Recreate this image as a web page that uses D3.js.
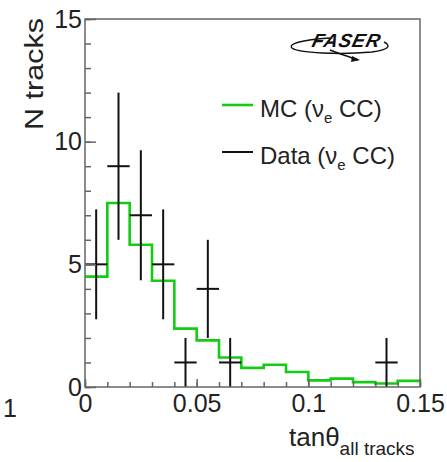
<!DOCTYPE html>
<html>
<head>
<meta charset="utf-8">
<script src="https://cdn.jsdelivr.net/npm/d3@7"></script>
<style>
  body { margin: 0; background: #fff; }
  svg { display: block; font-family: "Liberation Sans", Arial, sans-serif; }
</style>
</head>
<body>
<div id="chart"></div>
<script>
// bins of tan(theta), width 0.01
const binEdges = [0, 0.01, 0.02, 0.03, 0.04, 0.05, 0.06, 0.07, 0.08, 0.09, 0.1, 0.11, 0.12, 0.13, 0.14, 0.15];
const mcCounts = [4.5, 7.5, 5.8, 4.33, 2.38, 1.9, 1.2, 0.78, 0.91, 0.61, 0.27, 0.34, 0.2, 0.14, 0.25];
const dataCounts = [5, 9, 7, 5, 1, 4, 1, 0, 0, 0, 0, 0, 0, 1, 0];
const dataErrors = [2.24, 3, 2.65, 2.24, 1, 2, 1, 0, 0, 0, 0, 0, 0, 1, 0];
const xTickValues = [0, 0.05, 0.1, 0.15];
const xTickLabels = ["0", "0.05", "0.1", "0.15"];
const yTickValues = [0, 5, 10, 15];

const W = 447, H = 462;
const margin = { top: 19, right: 27, bottom: 75, left: 85 };
const width = W - margin.left - margin.right;
const height = H - margin.top - margin.bottom;

const svg = d3.select("#chart").append("svg")
    .attr("width", W)
    .attr("height", H);

const g = svg.append("g")
    .attr("transform", `translate(${margin.left},${margin.top})`);

const x = d3.scaleLinear().domain([0, 0.15]).range([0, width]);
const y = d3.scaleLinear().domain([0, 15]).range([height, 0]);

// MC histogram outline
const histPts = mcCounts.map((v, i) => [binEdges[i], v]);
histPts.push([binEdges[binEdges.length - 1], mcCounts[mcCounts.length - 1]]);

g.append("path")
    .datum(histPts)
    .attr("fill", "none")
    .attr("stroke", "#13cc13")
    .attr("stroke-width", 2.6)
    .attr("d", d3.line().x(d => x(d[0])).y(d => y(d[1])).curve(d3.curveStepAfter));

// data crosses
const pts = dataCounts.map((v, i) => ({ x0: binEdges[i], x1: binEdges[i + 1], v: v, e: dataErrors[i] }))
    .filter(d => d.v > 0);

const cross = g.append("g").attr("stroke", "#111").attr("stroke-width", 2);
cross.selectAll("line.h").data(pts).enter().append("line")
    .attr("x1", d => x(d.x0)).attr("x2", d => x(d.x1))
    .attr("y1", d => y(d.v)).attr("y2", d => y(d.v));
cross.selectAll("line.v").data(pts).enter().append("line")
    .attr("x1", d => x((d.x0 + d.x1) / 2)).attr("x2", d => x((d.x0 + d.x1) / 2))
    .attr("y1", d => y(d.v + d.e)).attr("y2", d => y(d.v - d.e));

// frame
g.append("rect")
    .attr("width", width).attr("height", height)
    .attr("fill", "none").attr("stroke", "#666").attr("stroke-width", 1.5);

// axes
function styleAxis(sel) {
    sel.select(".domain").remove();
    sel.selectAll(".tick line").attr("stroke", "#666").attr("stroke-width", 1.5);
    sel.selectAll(".tick text").attr("fill", "#222").style("font-size", "25px")
        .style("font-family", "'Liberation Sans', Arial, sans-serif");
}

g.append("g")
    .call(d3.axisLeft(y).tickValues(d3.range(0, 16, 1)).tickSize(-6).tickFormat(""))
    .call(styleAxis);
g.append("g")
    .call(d3.axisLeft(y).tickValues(yTickValues).tickSize(-11).tickPadding(3).tickFormat(d3.format("d")))
    .call(styleAxis);

g.append("g")
    .attr("transform", `translate(0,${height})`)
    .call(d3.axisBottom(x).tickValues(d3.range(0, 16, 1).map(i => i / 100)).tickSize(-5).tickFormat(""))
    .call(styleAxis);
g.append("g")
    .attr("transform", `translate(0,${height})`)
    .call(d3.axisBottom(x).tickValues(xTickValues).tickSize(-8).tickPadding(7)
        .tickFormat((d, i) => xTickLabels[i]))
    .call(styleAxis);

// axis titles
svg.append("text")
    .attr("transform", "translate(43,130) rotate(-90)")
    .attr("textLength", 112)
    .attr("lengthAdjust", "spacingAndGlyphs")
    .style("font-size", "26px")
    .attr("fill", "#222")
    .text("N tracks");

const xt = svg.append("text")
    .attr("x", 289).attr("y", 446)
    .attr("fill", "#222")
    .style("font-size", "26px");
xt.append("tspan").text("tanθ");
xt.append("tspan").attr("dy", 9).style("font-size", "19px").text("all tracks");

// stray label at bottom left
svg.append("text")
    .attr("x", 3).attr("y", 417)
    .attr("fill", "#222")
    .style("font-size", "25px")
    .text("1");

// legend
const legend = [
    { label: "MC (", color: "#13cc13", width: 2.6, yy: 105 },
    { label: "Data (", color: "#111", width: 2, yy: 152 }
];
legend.forEach(l => {
    svg.append("line")
        .attr("x1", 222).attr("x2", 253)
        .attr("y1", l.yy).attr("y2", l.yy)
        .attr("stroke", l.color).attr("stroke-width", l.width);
    const t = svg.append("text")
        .attr("x", 260).attr("y", l.yy + 12)
        .attr("fill", "#222")
        .style("font-size", "24px");
    t.append("tspan").text(l.label + "ν");
    t.append("tspan").attr("dy", 6).style("font-size", "15px").text("e");
    t.append("tspan").attr("dy", -6).text(" CC)");
});

// FASER logo
const logo = svg.append("g");
logo.append("path")
    .attr("d", "M330,38 C300,40 288,44 292,48 C298,53 340,55 372,52 C388,50 392,46 384,42")
    .attr("fill", "none").attr("stroke", "#111").attr("stroke-width", 1.4);
logo.append("path")
    .attr("d", "M330,50 C340,54 350,57 358,60")
    .attr("fill", "none").attr("stroke", "#111").attr("stroke-width", 1.4);
logo.append("path")
    .attr("d", "M352,56 L360,60 L351,62 Z")
    .attr("fill", "#111");
logo.append("text")
    .attr("x", 346).attr("y", 47)
    .attr("text-anchor", "middle")
    .attr("transform", "skewX(-14) translate(11,0)")
    .style("font-size", "19px")
    .style("font-weight", "bold")
    .style("font-style", "italic")
    .style("letter-spacing", "1px")
    .attr("fill", "#111")
    .text("FASER");
</script>
</body>
</html>
